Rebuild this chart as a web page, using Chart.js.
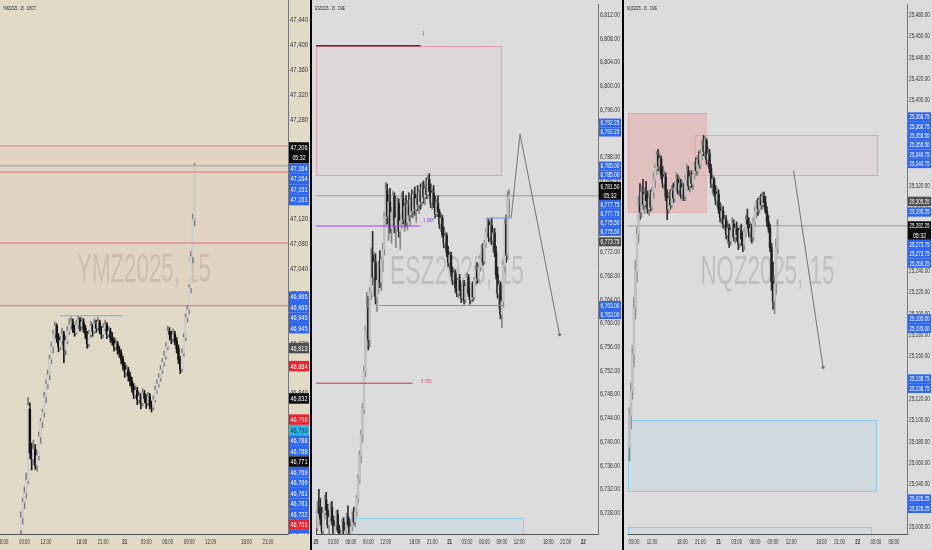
<!DOCTYPE html>
<html>
<head>
<meta charset="utf-8">
<script src="https://cdn.jsdelivr.net/npm/chart.js@4.4.0/dist/chart.umd.min.js"></script>
<style>
html, body { margin: 0; padding: 0; background: #000; width: 932px; height: 550px; overflow: hidden; }
.pane { position: absolute; top: 0; height: 550px; }
#p1 { left: 0; width: 310px; background: #e1dac7; }
#p2 { left: 312px; width: 310px; background: #dcdcdc; }
#p3 { left: 624px; width: 308px; background: #dcdcdc; }
canvas { display: block; }
</style>
</head>
<body>
<div class="pane" id="p1"><canvas id="c1" width="310" height="550"></canvas></div>
<div class="pane" id="p2"><canvas id="c2" width="310" height="550"></canvas></div>
<div class="pane" id="p3"><canvas id="c3" width="308" height="550"></canvas></div>
<script>
/* ---- YM (15 min, slot = 15 min bar, session break skipped) ---- */
const ymFirst = 10;
const ymCandles = [
  [46620,46650,46600,46640],[46640,46672,46630,46665],[46665,46690,46655,46680],[46680,46712,46672,46700],[46700,46834,46695,46820],
  [46815,46825,46735,46745],[46745,46760,46717,46735],[46735,46765,46725,46750],[46750,46758,46718,46725],[46725,46748,46715,46740],
  [46740,46778,46733,46770],[46770,46800,46760,46795],[46795,46815,46785,46810],[46810,46842,46802,46835],[46835,46862,46825,46855],
  [46855,46878,46848,46870],[46870,46902,46862,46895],[46895,46922,46888,46915],[46915,46942,46905,46935],[46935,46955,46928,46948],
  [46948,46952,46922,46930],[46930,46936,46907,46915],[46915,46932,46910,46925],[46925,46945,46918,46935],[46935,46940,46889,46910],
  [46910,46932,46902,46925],[46925,46948,46920,46940],[46940,46960,46935,46950],[46950,46963,46942,46955],[46955,46960,46938,46945],
  [46945,46950,46932,46938],[46938,46958,46935,46950],[46950,46964,46944,46958],[46958,46962,46940,46948],[46948,46962,46942,46955],
  [46955,46960,46938,46945],[46945,46950,46928,46935],[46935,46940,46913,46920],[46920,46942,46915,46935],[46935,46956,46930,46948],
  [46948,46952,46932,46940],[46940,46960,46936,46952],[46952,46958,46938,46945],[46945,46962,46940,46955],[46955,46958,46936,46942],
  [46942,46948,46928,46935],[46935,46952,46930,46945],[46945,46958,46940,46950],[46950,46954,46928,46935],[46935,46948,46930,46940],
  [46940,46945,46922,46930],[46930,46938,46918,46925],[46925,46930,46908,46915],[46915,46928,46910,46920],[46920,46924,46903,46910],
  [46910,46916,46898,46905],[46905,46910,46888,46895],[46895,46900,46878,46885],[46885,46890,46866,46875],[46875,46886,46868,46878],
  [46878,46882,46860,46868],[46868,46874,46852,46860],[46860,46866,46842,46850],[46850,46856,46832,46838],[46838,46852,46832,46845],
  [46845,46850,46822,46830],[46830,46842,46824,46835],[46835,46840,46815,46825],[46825,46848,46820,46840],[46840,46845,46825,46832],
  [46832,46838,46816,46825],[46825,46842,46820,46835],[46835,46840,46815,46822],[46822,46828,46810,46818],[46818,46836,46814,46830],
  [46830,46852,46826,46845],[46845,46862,46840,46855],[46855,46872,46850,46865],[46865,46885,46860,46878],[46878,46896,46872,46890],
  [46890,46908,46884,46900],[46900,46922,46895,46915],[46915,46948,46910,46940],[46940,46946,46926,46935],[46935,46940,46920,46928],
  [46928,46944,46922,46935],[46935,46940,46918,46925],[46925,46930,46905,46912],[46912,46918,46888,46895],[46895,46900,46872,46880],
  [46880,46912,46875,46905],[46905,46936,46900,46930],[46930,46968,46925,46962],[46962,46982,46955,46975],[46975,47015,46968,47010],
  [47010,47068,47002,47060],[47060,47128,47050,47120],[47120,47210,47110,47206]
];
const ymTimeSlots = [0, 12, 24, 44, 56, 68, 80, 92, 104, 116, 136, 148];
const ymTimeLabels = ['06:00','09:00','12:00','18:00','21:00','21','03:00','06:00','09:00','12:00','18:00','21:00'];
const ymTags = [[47206,'last'],[47164,'blue'],[47164,'blue'],[47151,'blue'],[47151,'blue'],[46965,'blue'],[46965,'blue'],
  [46945,'blue'],[46945,'blue'],[46913,'pivot'],[46884,'red'],[46832,'black'],[46798,'red'],[46790,'cyan'],[46788,'blue'],
  [46788,'blue'],[46771,'black'],[46769,'blue'],[46769,'blue'],[46761,'blue'],[46761,'blue'],[46722,'blue'],[46701,'red'],[46690,'blue']];
const ymRects = [[-2, 160, 47238, 46981, 'zone']];
const ymPaths = [
  {kind:'red', pts:[[-2,47238],[160,47238]]},
  {kind:'price', pts:[[-2,47206],[160,47206]]},
  {kind:'red', pts:[[-2,47196],[160,47196]]},
  {kind:'red', pts:[[-2,47082],[160,47082]]},
  {kind:'red', pts:[[-2,46981],[160,46981]]},
  {kind:'steel', pts:[[31.8,46965],[67,46965]]}
];
const ymNotes = [];

/* ---- ES ---- */
const esFirst = 0;
const esCandles = [
  [6727,6729,6724,6725.5],[6725.5,6730,6725,6729],[6729,6732,6727.5,6728],[6728,6730.5,6726,6727],[6727,6729,6724.5,6725],
  [6725,6728.5,6723.5,6728],[6728,6731,6727,6730.25],[6730.25,6731.5,6727.75,6728.5],[6728.5,6729.5,6725.5,6726],[6726,6728,6724,6727.25],
  [6727.25,6729.75,6726.5,6729],[6729,6730,6726,6726.75],[6726.75,6727.5,6723.5,6724],[6724,6726.5,6722.75,6725.75],[6725.75,6728.5,6725,6727.75],
  [6727.75,6728.5,6724.75,6725.25],[6725.25,6726,6722,6722.75],[6722.75,6725,6721.5,6724.5],[6724.5,6727,6723.75,6726.5],[6726.5,6727.25,6723,6723.5],
  [6723.5,6725.75,6722.25,6725],[6725,6728,6724.25,6727.5],[6727.5,6729.25,6725.5,6726],[6726,6727,6723.25,6724.25],[6724.25,6726.5,6723,6725.75],
  [6725.75,6728.25,6725,6727.75],[6727.75,6729,6726,6726.5],[6726.5,6728.75,6725.75,6728.25],[6728.25,6731,6727.5,6730.5],[6730.5,6734.5,6729.75,6733.75],
  [6733.75,6738.5,6733,6737.75],[6737.75,6742,6736.5,6741.25],[6741.25,6746.5,6740,6745.5],[6745.5,6752.75,6744.75,6752],[6752,6759.5,6751,6758.75],
  [6758.75,6765.25,6757.5,6762.5],[6762.5,6764.5,6755.5,6757.25],[6757.25,6766,6756,6765.25],[6765.25,6772.75,6764,6771.5],[6771.5,6775.5,6766.5,6767.75],
  [6767.75,6772,6764.5,6770.25],[6770.25,6771.75,6763.25,6764.5],[6764.5,6768.5,6762,6767.25],[6767.25,6770.5,6765,6769.5],[6769.5,6772.25,6766,6767],
  [6767,6771.25,6765.5,6770.75],[6770.75,6773.5,6768.75,6772.5],[6772.5,6778.75,6771.5,6777.75],[6777.75,6783.75,6776.5,6782.5],[6782.5,6783.5,6776.75,6778],
  [6778,6781.75,6774,6780.5],[6780.5,6782.75,6775.25,6776],[6776,6779.5,6773.5,6778.75],[6778.75,6782.25,6777.5,6781.5],[6781.5,6782,6775.25,6776.25],
  [6776.25,6779,6772.75,6777.75],[6777.75,6781.25,6776.5,6780.25],[6780.25,6781,6774.5,6775.5],[6775.5,6778.5,6772.5,6777.25],[6777.25,6782,6776,6781],
  [6781,6782.25,6776.75,6777.5],[6777.5,6780.25,6775.5,6779.75],[6779.75,6781.5,6776.25,6777],[6777,6780.75,6775.75,6780],[6780,6782,6777.25,6778.25],
  [6778.25,6781.5,6776.5,6780.75],[6780.75,6782.5,6778,6779],[6779,6782.25,6777.75,6781.75],[6781.75,6783,6778.25,6779.25],[6779.25,6781.75,6777,6781],
  [6781,6783.25,6779,6780],[6780,6782.5,6778.5,6782],[6782,6783.5,6779.25,6780.5],[6780.5,6783.75,6779.75,6783],[6783,6784,6780.25,6781.25],
  [6781.25,6783.5,6780,6782.75],[6782.75,6784.5,6781,6781.75],[6781.75,6785,6781,6784.25],[6784.25,6785.25,6781.5,6782.25],[6782.25,6783.5,6779.5,6780.25],
  [6780.25,6782.75,6779.25,6782],[6782,6783.25,6779.5,6780],[6780,6781.5,6777.75,6778.5],[6778.5,6781,6778,6780.25],[6780.25,6781.5,6778,6778.75],
  [6778.75,6779.25,6776,6776.75],[6776.75,6778.5,6775.5,6777.75],[6777.75,6778.25,6774.5,6775],[6775,6776.25,6772.75,6773.5],[6773.5,6775.5,6772.5,6774.75],
  [6774.75,6775.25,6771.25,6772],[6772,6773,6769.5,6770.25],[6770.25,6772,6769.25,6771.5],[6771.5,6772,6768,6768.75],[6768.75,6769.5,6766.5,6767.25],
  [6767.25,6769.25,6766.75,6768.5],[6768.5,6769,6765.25,6766],[6766,6767.5,6764.5,6765],[6765,6767.75,6764.25,6767.25],[6767.25,6768.25,6764.75,6765.5],
  [6765.5,6766.5,6763.5,6764.25],[6764.25,6767,6763.75,6766.5],[6766.5,6767.25,6763.25,6764],[6764,6766.75,6763.5,6766.25],[6766.25,6768.5,6765.5,6767.75],
  [6767.75,6768.25,6764.5,6765],[6765,6766,6763.25,6764],[6764,6766.75,6763.5,6766.25],[6766.25,6767,6763.75,6764.5],[6764.5,6767.75,6764,6767.25],
  [6767.25,6769.75,6766.5,6769],[6769,6770.25,6766.75,6767.5],[6767.5,6770,6767,6769.5],[6769.5,6771.5,6768.75,6771],[6771,6773.25,6770.25,6772.5],
  [6772.5,6773.5,6769.75,6770.5],[6770.5,6774,6770,6773.5],[6773.5,6776,6772.75,6775.5],[6775.5,6777.75,6774.5,6777],[6777,6777.5,6773.75,6774.5],
  [6774.5,6777.25,6773.5,6776.5],[6776.5,6777.75,6773.25,6774],[6774,6776,6772,6775.25],[6775.25,6776,6771.25,6772],[6772,6773,6767.5,6768.25],
  [6768.25,6769.5,6764.25,6765],[6765,6767.25,6762.5,6766.5],[6766.5,6767,6760.75,6761.5],[6761.5,6764.5,6759.25,6763.75],[6763.75,6770.5,6762.75,6769.75],
  [6769.75,6777.5,6768.5,6776.75],[6776.75,6778.25,6770.25,6771.5],[6771.5,6782.25,6770.75,6781],[6781,6782.5,6778,6781.5]
];
const esTimeSlots = [0, 12, 24, 36, 48, 68, 80, 92, 104, 116, 128, 140, 160, 172, 184];
const esTimeLabels = ['20','03:00','06:00','09:00','12:00','18:00','21:00','21','03:00','06:00','09:00','12:00','18:00','21:00','22'];
const esTags = [[6792.25,'blue'],[6792.25,'blue'],[6785,'blue'],[6785,'blue'],[6781.5,'last'],[6777.75,'blue'],[6777.75,'blue'],
  [6775.5,'blue'],[6775.5,'blue'],[6773.75,'pivot'],[6763,'blue'],[6763,'blue']];
const esRects = [[0, 127.6, 6806.8, 6785, 'box'], [20.4, 142.6, 6727.2, 6718, 'aqua']];
const esPaths = [
  {kind:'price', pts:[[0,6781.5],[195,6781.5]]},
  {kind:'dark', pts:[[0,6806.8],[72,6806.8]]},
  {kind:'purple', pts:[[0,6776.4],[72,6776.4]]},
  {kind:'wine', pts:[[0,6749.9],[66.5,6749.9]]},
  {kind:'blue', pts:[[43.4,6763],[129.7,6763]]},
  {kind:'blue', pts:[[117.4,6777.75],[134.4,6777.75]]},
  {kind:'path', dot:true, pts:[[134.4,6777.75],[140.5,6791.9],[167.7,6758.1]]}
];
const esNotes = [[74, 6808.9, '1', 'gray'], [77.4, 6777.4, '1.988', 'purple'], [76, 6750.3, '5.788', 'pink']];

/* ---- NQ ---- */
const nqFirst = 33;
const nqCandles = [
  [25075,25112,25062,25105],[25105,25135,25092,25128],[25128,25170,25120,25162],[25162,25215,25150,25205],[25205,25250,25195,25240],
  [25240,25282,25230,25275],[25275,25310,25266,25302],[25302,25322,25288,25295],[25295,25320,25290,25314],[25314,25326,25298,25302],
  [25302,25318,25294,25312],[25312,25324,25300,25306],[25306,25315,25294,25298],[25298,25312,25292,25308],[25308,25316,25296,25300],
  [25300,25318,25297,25314],[25314,25332,25308,25326],[25326,25340,25318,25336],[25336,25352,25330,25348],[25348,25354,25334,25338],
  [25338,25350,25332,25345],[25345,25348,25326,25330],[25330,25338,25318,25322],[25322,25334,25316,25328],[25328,25332,25306,25310],
  [25310,25316,25288,25298],[25298,25314,25294,25308],[25308,25316,25298,25302],[25302,25320,25299,25315],[25315,25322,25304,25308],
  [25308,25324,25305,25318],[25318,25332,25314,25326],[25326,25330,25312,25316],[25316,25328,25310,25322],[25322,25326,25308,25312],
  [25312,25324,25306,25318],[25318,25322,25306,25310],[25310,25330,25306,25326],[25326,25340,25320,25334],[25334,25338,25316,25320],
  [25320,25332,25314,25328],[25328,25334,25318,25322],[25322,25332,25316,25330],[25330,25342,25326,25338],[25338,25346,25330,25334],
  [25334,25348,25330,25344],[25344,25352,25336,25340],[25340,25354,25336,25350],[25350,25362,25344,25358],[25358,25367,25348,25352],
  [25352,25366,25346,25362],[25362,25364,25340,25344],[25344,25356,25338,25350],[25350,25354,25332,25336],[25336,25340,25318,25322],
  [25322,25330,25312,25326],[25326,25328,25310,25314],[25314,25320,25302,25306],[25306,25318,25300,25312],[25312,25316,25294,25298],
  [25298,25304,25286,25290],[25290,25302,25284,25296],[25296,25300,25280,25284],[25284,25292,25278,25288],[25288,25292,25270,25274],
  [25274,25286,25266,25280],[25280,25284,25262,25268],[25268,25282,25264,25278],[25278,25290,25272,25284],[25284,25288,25268,25272],
  [25272,25284,25266,25280],[25280,25286,25268,25274],[25274,25280,25260,25266],[25266,25282,25262,25278],[25278,25284,25264,25270],
  [25270,25276,25258,25264],[25264,25280,25260,25276],[25276,25292,25272,25288],[25288,25298,25280,25284],[25284,25290,25272,25276],
  [25276,25286,25268,25280],[25280,25284,25266,25272],[25272,25290,25268,25286],[25286,25300,25282,25296],[25296,25306,25290,25302],
  [25302,25308,25292,25298],[25298,25310,25294,25306],[25306,25312,25298,25302],[25302,25314,25298,25310],[25310,25314,25300,25304],
  [25304,25310,25294,25296],[25296,25300,25282,25286],[25286,25292,25276,25280],[25280,25284,25258,25262],[25262,25266,25222,25230],
  [25230,25248,25204,25212],[25212,25236,25200,25228],[25228,25270,25218,25262],[25262,25288,25256,25282]
];
const nqTimeSlots = [36, 48, 68, 80, 92, 104, 116, 128, 140, 160, 172, 184, 196, 208];
const nqTimeLabels = ['09:00','12:00','18:00','21:00','21','03:00','06:00','09:00','12:00','18:00','21:00','22','03:00','06:00'];
const nqTags = [[25368.75,'blue'],[25368.75,'blue'],[25355.5,'blue'],[25355.5,'blue'],[25340.75,'blue'],[25340.75,'blue'],
  [25305.25,'pivot'],[25295.25,'blue'],[25282.25,'last'],[25273.75,'blue'],[25273.75,'blue'],[25260.25,'blue'],
  [25195,'blue'],[25195,'blue'],[25138.75,'blue'],[25138.75,'blue'],[25026.25,'blue'],[25026.25,'blue']];
const nqRects = [[32, 83.6, 25388, 25295, 'solid'], [76.4, 197, 25367.4, 25330.2, 'box'],
  [32, 196.3, 25100.4, 25033.5, 'aqua'], [32, 192.4, 25000, 24980, 'aqua']];
const nqPaths = [
  {kind:'price', pts:[[32,25282.25],[217,25282.25]]},
  {kind:'path', dot:true, pts:[[141.6,25334],[161.1,25149.7]]}
];
const nqNotes = [];

/* ---- styles ---- */
const FONT = "'Liberation Sans', Arial, sans-serif";
const lineStyle = {red:'#dc6f7c', price:'#9a9a9a', steel:'#8ea6d2', purple:'#a23ee6', blue:'#6d8fe6',
  dark:'#7c1d30', wine:'#c7344f', path:'#727272'};
const rectStyle = {
  zone: {fill:'rgba(236,150,150,0.08)', line:null},
  box: {fill:'rgba(238,170,180,0.09)', line:'#e4a2ae'},
  solid: {fill:'rgba(232,150,150,0.40)', line:'rgba(226,140,140,0.45)'},
  aqua: {fill:'rgba(160,212,236,0.20)', line:'#8ccfe8'}
};
const tagStyle = {blue:['#2f66f0','#fff'], red:['#f2212f','#fff'], black:['#0d0d0d','#fff'], last:['#0d0d0d','#fff'],
  pivot:['#4f4f4f','#fff'], cyan:['#2ab4e8','#083040']};
const noteStyle = {gray:'#555', purple:'#a23ee6', pink:'#e0507a'};

function fmt(v, dec) {
  return v.toLocaleString('en-US', {minimumFractionDigits: dec, maximumFractionDigits: dec});
}

// text squeezed sideways, the screenshot is narrow
function fitText(ctx, txt, x, y, maxW, size, color, align, weight, squeeze) {
  ctx.save();
  ctx.font = (weight || 'normal') + ' ' + size + 'px ' + FONT;
  ctx.fillStyle = color;
  ctx.textBaseline = 'middle';
  ctx.textAlign = align || 'center';
  const w = ctx.measureText(txt).width;
  let k = squeeze || 1;
  if (w * k > maxW) k = maxW / w;
  ctx.translate(x, y);
  ctx.scale(k, 1);
  ctx.fillText(txt, 0, 0);
  ctx.restore();
}

function makePanel(id, p) {
  const bull = p.candles.map(k => k[3] >= k[0]);
  const datasets = [];
  p.paths.forEach(s => {
    datasets.push({
      type: 'line',
      data: s.pts.map(q => ({x: q[0], y: q[1]})),
      borderColor: lineStyle[s.kind],
      borderWidth: s.kind === 'dark' ? 1.6 : 1,
      pointRadius: s.dot ? s.pts.map((q, i) => i === s.pts.length - 1 ? 1.6 : 0) : 0,
      pointBackgroundColor: lineStyle[s.kind],
      pointBorderWidth: 0,
      tension: 0,
      order: s.kind === 'price' ? 4 : 1
    });
  });
  datasets.push({
    type: 'bar',
    data: p.candles.map((k, i) => ({x: p.first + i, y: [k[2], k[1]]})),
    grouped: false, barThickness: 1,
    backgroundColor: bull.map(b => b ? p.col.bullWick : p.col.bearWick),
    order: 3
  });
  datasets.push({
    type: 'bar',
    data: p.candles.map((k, i) => ({x: p.first + i, y: [k[0], k[3]]})),
    grouped: false, barThickness: 1.8, minBarLength: 1,
    backgroundColor: bull.map(b => b ? p.col.bullBody : p.col.bearBody),
    order: 2
  });

  const plugin = {
    id: 'panel' + id,
    beforeDatasetsDraw(chart) {
      const ctx = chart.ctx, a = chart.chartArea, xs = chart.scales.x, ys = chart.scales.y;
      ctx.save();
      ctx.beginPath();
      ctx.rect(a.left, a.top, a.right - a.left, a.bottom - a.top);
      ctx.clip();
      // watermark
      ctx.save();
      ctx.font = '40px "Liberation Sans", Arial, sans-serif';
      ctx.fillStyle = p.col.mark;
      ctx.textAlign = 'center';
      ctx.textBaseline = 'middle';
      const w = ctx.measureText(p.mark).width;
      ctx.translate((a.left + a.right) / 2, (a.top + a.bottom) / 2 + 4);
      ctx.scale(134 / w, 1);
      ctx.fillText(p.mark, 0, 0);
      ctx.restore();
      // zones
      p.rects.forEach(r => {
        const x1 = xs.getPixelForValue(r[0]), x2 = xs.getPixelForValue(r[1]);
        const y1 = ys.getPixelForValue(r[2]), y2 = ys.getPixelForValue(r[3]);
        const st = rectStyle[r[4]];
        ctx.fillStyle = st.fill;
        ctx.fillRect(x1, y1, x2 - x1, y2 - y1);
        if (st.line) {
          ctx.strokeStyle = st.line;
          ctx.lineWidth = 1;
          ctx.strokeRect(Math.round(x1) + 0.5, Math.round(y1) + 0.5, Math.round(x2 - x1), Math.round(y2 - y1));
        }
      });
      ctx.restore();
    },
    afterDatasetsDraw(chart) {
      const ctx = chart.ctx, xs = chart.scales.x, ys = chart.scales.y;
      p.notes.forEach(n => {
        fitText(ctx, n[2], xs.getPixelForValue(n[0]), ys.getPixelForValue(n[1]), 14, 6, noteStyle[n[3]], 'center', 'normal', 0.7);
      });
    },
    afterDraw(chart) {
      const ctx = chart.ctx, a = chart.chartArea, xs = chart.scales.x, ys = chart.scales.y;
      const h = p.tagH;
      // title
      fitText(ctx, p.title, 3, 8, p.titleW, 6, '#222', 'left');
      // axis labels from the scales' own ticks, squeezed to fit
      const ax = (a.right + chart.width) / 2;
      ys.ticks.forEach(t => {
        fitText(ctx, fmt(t.value, p.dec), ax, ys.getPixelForValue(t.value), p.axisW - 4, 7, '#333', 'center');
      });
      ctx.save();
      ctx.beginPath();
      ctx.rect(0, a.bottom, a.right, chart.height - a.bottom);
      ctx.clip();
      xs.ticks.forEach(t => {
        const lab = p.timeLabels[p.timeSlots.indexOf(t.value)];
        const day = lab.length <= 2;
        fitText(ctx, lab, xs.getPixelForValue(t.value), a.bottom + 8.5, 20, 7, '#333', 'center', day ? 'bold' : 'normal', 0.62);
      });
      ctx.restore();
      // price tags, stacked away from the pivot tag like the platform does
      const items = p.tags.map(t => ({p: t[0], kind: t[1], y: ys.getPixelForValue(t[0]), rows: t[1] === 'last' ? 2 : 1}));
      const piv = items.find(it => it.kind === 'pivot');
      let edge = piv.y + h / 2;
      items.filter(it => it.p < piv.p).sort((m, n) => n.p - m.p).forEach(it => {
        const top = Math.max(it.y - h / 2, edge);
        it.y = top + h / 2;
        edge = top + it.rows * h;
      });
      edge = piv.y - h / 2;
      items.filter(it => it.p > piv.p).sort((m, n) => m.p - n.p).forEach(it => {
        const bot = Math.min(it.y - h / 2 + it.rows * h, edge);
        const top = bot - it.rows * h;
        it.y = top + h / 2;
        edge = top;
      });
      ctx.save();
      ctx.beginPath();
      ctx.rect(a.right, 0, chart.width - a.right, a.bottom);
      ctx.clip();
      const x0 = a.right + 1, tw = chart.width - a.right - 2;
      items.forEach(it => {
        const st = tagStyle[it.kind];
        ctx.fillStyle = st[0];
        ctx.fillRect(x0, it.y - h / 2, tw, it.rows * h);
        fitText(ctx, fmt(it.p, p.dec), x0 + tw / 2, it.y + 0.5, tw - 3, 7, st[1], 'center');
        if (it.rows === 2) fitText(ctx, '05:32', x0 + tw / 2, it.y + h + 0.5, tw - 3, 7, st[1], 'center', 'normal', 0.75);
      });
      ctx.restore();
    }
  };

  return new Chart(document.getElementById(id), {
    type: 'bar',
    data: {datasets: datasets},
    options: {
      responsive: false,
      animation: false,
      devicePixelRatio: 1,
      layout: {padding: 0},
      plugins: {legend: {display: false}, tooltip: {enabled: false}},
      scales: {
        x: {
          type: 'linear', min: p.xMin, max: p.xMax, offset: false,
          grid: {display: false},
          border: {color: '#555'},
          afterBuildTicks: s => { s.ticks = p.timeSlots.map(v => ({value: v})); },
          afterFit: s => { s.height = 16; s.paddingLeft = 0; s.paddingRight = 0; },
          ticks: {display: false, autoSkip: false, maxRotation: 0, minRotation: 0}
        },
        y: {
          type: 'linear', position: 'right', min: p.yMin, max: p.yMax,
          grid: {display: false},
          border: {color: '#777'},
          afterFit: s => { s.width = p.axisW; s.paddingTop = 0; s.paddingBottom = 0; },
          ticks: {display: false, stepSize: p.yStep, includeBounds: false}
        }
      }
    },
    plugins: [plugin]
  });
}

const ymCol = {bullWick:'#7a7a7a', bearWick:'#1a1a1a', bullBody:'#d0d0d0', bearBody:'#111', mark:'rgba(95,85,60,0.18)'};
const grCol = {bullWick:'#858585', bearWick:'#2e2e2e', bullBody:'#c2c2c2', bearBody:'#222', mark:'rgba(0,0,0,0.13)'};

makePanel('c1', {first: ymFirst, candles: ymCandles, timeSlots: ymTimeSlots, timeLabels: ymTimeLabels, tags: ymTags,
  rects: ymRects, paths: ymPaths, notes: ymNotes, col: ymCol, mark: 'YMZ2025, 15', title: 'YMZ2025 · 15 · CBOT', titleW: 33,
  xMin: -1.68, xMax: 159.2, yMin: 46614.1, yMax: 47472.6, yStep: 40, dec: 0, axisW: 22, tagH: 10.5});
makePanel('c2', {first: esFirst, candles: esCandles, timeSlots: esTimeSlots, timeLabels: esTimeLabels, tags: esTags,
  rects: esRects, paths: esPaths, notes: esNotes, col: grCol, mark: 'ESZ2025, 15', title: 'ESZ2025 · 15 · CME', titleW: 30,
  xMin: 0, xMax: 194.2, yMin: 6724.48, yMax: 6813.84, yStep: 4, dec: 2, axisW: 24, tagH: 9});
makePanel('c3', {first: nqFirst, candles: nqCandles, timeSlots: nqTimeSlots, timeLabels: nqTimeLabels, tags: nqTags,
  rects: nqRects, paths: nqPaths, notes: nqNotes, col: grCol, mark: 'NQZ2025, 15', title: 'NQZ2025 · 15 · CME', titleW: 30,
  xMin: 32.07, xMax: 216.6, yMin: 24993.5, yMax: 25490.2, yStep: 20, dec: 2, axisW: 25, tagH: 9.3});
</script>
</body>
</html>
